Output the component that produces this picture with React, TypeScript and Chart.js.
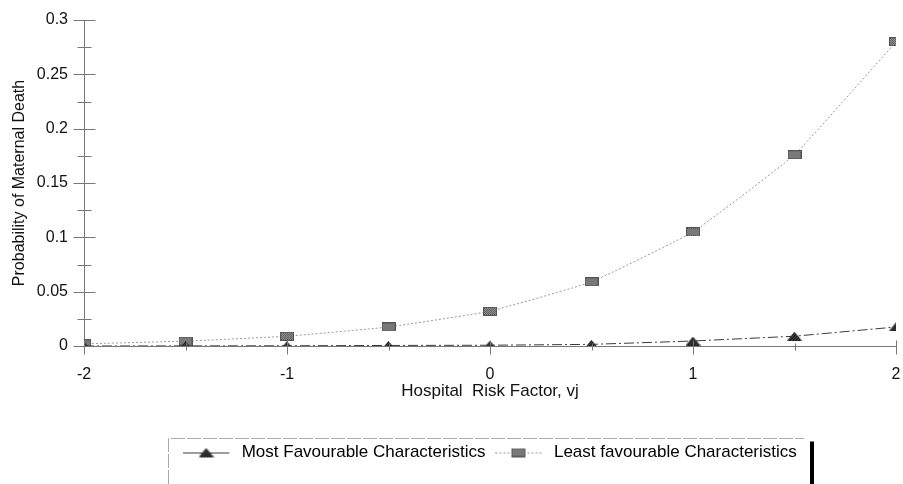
import React, { useEffect, useRef } from "react";
import { Chart, registerables } from "chart.js";

Chart.register(...registerables);

const X_VALUES = [-2, -1.5, -1, -0.5, 0, 0.5, 1, 1.5, 2];
const MOST_FAVOURABLE = [0, 0.0001, 0.0002, 0.0005, 0.0007, 0.0015, 0.0046, 0.009, 0.0175];
const LEAST_FAVOURABLE = [0.002, 0.0045, 0.009, 0.0175, 0.032, 0.059, 0.105, 0.176, 0.28];
const SERIES_NAMES = ["Most Favourable Characteristics", "Least favourable Characteristics"];
const Y_MAJOR_TICKS = [0, 0.05, 0.1, 0.15, 0.2, 0.25, 0.3];
const Y_MINOR_TICKS = [0.025, 0.075, 0.125, 0.175, 0.225, 0.275];
const X_MAJOR_TICKS = [-2, -1, 0, 1, 2];
const X_MINOR_TICKS = [-1.5, -0.5, 0.5, 1.5];
const X_TITLE = "Hospital  Risk Factor, vj";
const Y_TITLE = "Probability of Maternal Death";

const FONT = "'Liberation Sans', Arial, sans-serif";

function makeSquare(): HTMLCanvasElement {
  const c = document.createElement("canvas");
  c.width = 14;
  c.height = 9;
  const g = c.getContext("2d")!;
  for (let i = 0; i < 14; i++) {
    for (let j = 0; j < 9; j++) {
      g.fillStyle = (i + j) % 2 === 0 ? "#4a4a4a" : "#a8a8a8";
      g.fillRect(i, j, 1, 1);
    }
  }
  g.strokeStyle = "#555";
  g.lineWidth = 1;
  g.strokeRect(0.5, 0.5, 13, 8);
  return c;
}

function makeTriangle(): HTMLCanvasElement {
  const c = document.createElement("canvas");
  c.width = 15;
  c.height = 9;
  const g = c.getContext("2d")!;
  g.beginPath();
  g.moveTo(7.5, 0);
  g.lineTo(15, 9);
  g.lineTo(0, 9);
  g.closePath();
  g.fillStyle = "#1a1a1a";
  g.fill();
  g.globalCompositeOperation = "source-atop";
  for (let i = 0; i < 15; i++) {
    for (let j = 0; j < 9; j++) {
      if ((i + j) % 3 === 0) {
        g.fillStyle = "#555";
        g.fillRect(i, j, 1, 1);
      }
    }
  }
  return c;
}

function makeLegendSample(marker: HTMLCanvasElement, color: string, dash: number[]): HTMLCanvasElement {
  const c = document.createElement("canvas");
  c.width = 50;
  c.height = 16;
  const g = c.getContext("2d")!;
  g.strokeStyle = color;
  g.lineWidth = 1;
  g.setLineDash(dash);
  g.beginPath();
  g.moveTo(0, 8.5);
  g.lineTo(46, 8.5);
  g.stroke();
  g.drawImage(marker, 23 - marker.width / 2, 8 - marker.height / 2);
  return c;
}

export default function App() {
  const ref = useRef<HTMLCanvasElement | null>(null);

  useEffect(() => {
    if (!ref.current) return;
    const square = makeSquare();
    const triangle = makeTriangle();
    const mostColor = "#3a3a3a";
    const leastColor = "#9a9a9a";
    const mostDash = [10, 3, 2, 3];
    const leastDash = [2, 2];
    const samples = [
      makeLegendSample(triangle, mostColor, [30, 0]),
      makeLegendSample(square, leastColor, leastDash),
    ];

    const axisTicks = {
      id: "axisTicks",
      afterDraw(chart: any) {
        const { ctx, scales } = chart;
        const x = scales.x;
        const y = scales.y;
        const ax = Math.round(x.getPixelForValue(-2)) + 0.5;
        const ay = Math.round(y.getPixelForValue(0)) + 0.5;
        ctx.save();
        ctx.strokeStyle = "#777";
        ctx.lineWidth = 1;
        ctx.beginPath();
        Y_MAJOR_TICKS.forEach((v) => {
          const p = Math.round(y.getPixelForValue(v)) + 0.5;
          ctx.moveTo(ax - 11, p);
          ctx.lineTo(ax + 11, p);
        });
        Y_MINOR_TICKS.forEach((v) => {
          const p = Math.round(y.getPixelForValue(v)) + 0.5;
          ctx.moveTo(ax - 7, p);
          ctx.lineTo(ax + 7, p);
        });
        X_MAJOR_TICKS.forEach((v) => {
          const p = Math.round(x.getPixelForValue(v)) + 0.5;
          ctx.moveTo(p, ay - 6);
          ctx.lineTo(p, ay + 8);
        });
        X_MINOR_TICKS.forEach((v) => {
          const p = Math.round(x.getPixelForValue(v)) + 0.5;
          ctx.moveTo(p, ay - 3);
          ctx.lineTo(p, ay + 4);
        });
        ctx.stroke();

        // legend frame
        const lg = chart.legend;
        if (lg && lg.legendHitBoxes && lg.legendHitBoxes.length) {
          const hb = lg.legendHitBoxes;
          const first = hb[0];
          const last = hb[hb.length - 1];
          const left = Math.round(first.left - 15) + 0.5;
          const top = Math.round(first.top + first.height / 2 - 15) + 0.5;
          const right = Math.round(last.left + last.width + 15);
          ctx.strokeStyle = "#aaa";
          ctx.setLineDash([14, 2]);
          ctx.beginPath();
          ctx.moveTo(left, chart.height);
          ctx.lineTo(left, top);
          ctx.lineTo(right - 8, top);
          ctx.stroke();
          ctx.setLineDash([]);
          ctx.fillStyle = "#000";
          ctx.fillRect(right - 2, top + 3, 4, chart.height - top);
        }
        ctx.restore();
      },
    };

    const chart = new Chart(ref.current, {
      type: "line",
      data: {
        datasets: [
          {
            label: SERIES_NAMES[0],
            data: X_VALUES.map((xv, i) => ({ x: xv, y: MOST_FAVOURABLE[i] })),
            borderColor: mostColor,
            borderWidth: 1,
            borderDash: mostDash,
            pointStyle: triangle as any,
            pointRadius: 6,
            tension: 0,
            fill: false,
          },
          {
            label: SERIES_NAMES[1],
            data: X_VALUES.map((xv, i) => ({ x: xv, y: LEAST_FAVOURABLE[i] })),
            borderColor: leastColor,
            borderWidth: 1,
            borderDash: leastDash,
            pointStyle: square as any,
            pointRadius: 6,
            tension: 0.1,
            fill: false,
          },
        ],
      },
      options: {
        animation: false,
        responsive: true,
        maintainAspectRatio: false,
        layout: { padding: { top: 20, right: 0, left: 0, bottom: 13 } },
        plugins: {
          tooltip: { enabled: false },
          legend: {
            position: "bottom",
            fullSize: false,
            labels: {
              usePointStyle: true,
              pointStyleWidth: 50,
              padding: 10,
              color: "#111",
              font: { family: FONT, size: 17 },
              generateLabels: () =>
                SERIES_NAMES.map((name, i) => ({
                  text: name,
                  pointStyle: samples[i] as any,
                  fillStyle: "transparent",
                  strokeStyle: "transparent",
                  lineWidth: 0,
                  datasetIndex: i,
                  hidden: false,
                })),
            },
          },
        },
        scales: {
          x: {
            type: "linear",
            min: -2,
            max: 2,
            afterFit: (s: any) => {
              s.height = 88;
              s.paddingLeft = 0;
              s.paddingRight = 0;
            },
            grid: { display: false, drawTicks: false },
            border: { display: true, color: "#777", width: 1 },
            ticks: {
              stepSize: 1,
              padding: 19,
              color: "#111",
              font: { family: FONT, size: 16 },
              callback: (v: any) => String(v),
              maxRotation: 0,
            },
            title: {
              display: true,
              text: X_TITLE,
              color: "#111",
              font: { family: FONT, size: 17 },
              padding: { top: 0, bottom: 32 },
            },
          },
          y: {
            type: "linear",
            min: 0,
            max: 0.3,
            afterFit: (s: any) => {
              s.width = 84;
              s.paddingTop = 0;
              s.paddingBottom = 0;
            },
            grid: { display: false, drawTicks: false },
            border: { display: true, color: "#777", width: 1 },
            ticks: {
              stepSize: 0.05,
              padding: 16,
              color: "#111",
              font: { family: FONT, size: 16 },
              callback: (v: any) => String(Math.round(Number(v) * 1000) / 1000),
            },
            title: {
              display: true,
              text: Y_TITLE,
              color: "#111",
              font: { family: FONT, size: 16 },
              padding: { top: 10, bottom: 0 },
            },
          },
        },
      },
      plugins: [axisTicks],
    });
    return () => chart.destroy();
  }, []);

  return (
    <div style={{ position: "absolute", left: 0, top: 0, width: 903, height: 484, background: "#fff" }}>
      <canvas ref={ref} />
    </div>
  );
}
